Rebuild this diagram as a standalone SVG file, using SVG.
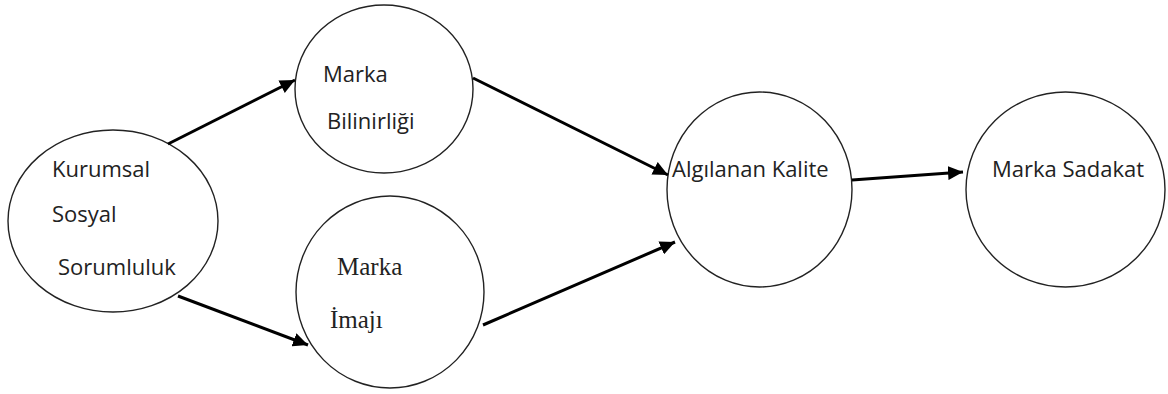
<svg xmlns="http://www.w3.org/2000/svg" width="1168" height="394" viewBox="0 0 1168 394">
<defs>
<marker id="ah" markerUnits="userSpaceOnUse" markerWidth="16" markerHeight="14" refX="15" refY="7" orient="auto">
<path d="M0,0 L15,7 L0,14 Z" fill="#000"/>
</marker>
</defs>
<style>
.node{fill:#fff;stroke:#222;stroke-width:1.4}
.sans{font-family:"Open Sans","Noto Sans",sans-serif;font-size:22px;fill:#222}
.serif{font-family:"Liberation Serif","DejaVu Serif",serif;font-size:25px;fill:#222}
.conn{stroke:#000;stroke-width:3;fill:none;marker-end:url(#ah)}
</style>
<rect width="1168" height="394" fill="#fff"/>
<g id="kss">
<ellipse class="node" cx="113" cy="221" rx="105" ry="91"/>
<text class="sans" x="52" y="177">Kurumsal</text>
<text class="sans" x="52" y="222">Sosyal</text>
<text class="sans" x="58" y="275">Sorumluluk</text>
</g>
<g id="mb">
<ellipse class="node" cx="384" cy="89" rx="89" ry="84"/>
<text class="sans" x="323" y="82">Marka</text>
<text class="sans" x="327" y="129">Bilinirliği</text>
</g>
<g id="mi">
<ellipse class="node" cx="390" cy="292" rx="94" ry="96"/>
<text class="serif" x="337" y="275">Marka</text>
<text class="serif" x="330" y="328">İmajı</text>
</g>
<g id="ak">
<ellipse class="node" cx="759.5" cy="189.5" rx="92.5" ry="97.5"/>
<text class="sans" x="672" y="177">Algılanan Kalite</text>
</g>
<g id="ms">
<ellipse class="node" cx="1065.5" cy="189.5" rx="99.5" ry="97.5"/>
<text class="sans" x="992" y="177">Marka Sadakat</text>
</g>
<g id="connectors">
<line class="conn" x1="168" y1="144" x2="295" y2="80"/>
<line class="conn" x1="178" y1="296" x2="308" y2="345"/>
<line class="conn" x1="473" y1="78" x2="668" y2="175"/>
<line class="conn" x1="483" y1="325" x2="675" y2="242"/>
<line class="conn" x1="852" y1="180" x2="963" y2="172"/>
</g>
</svg>
